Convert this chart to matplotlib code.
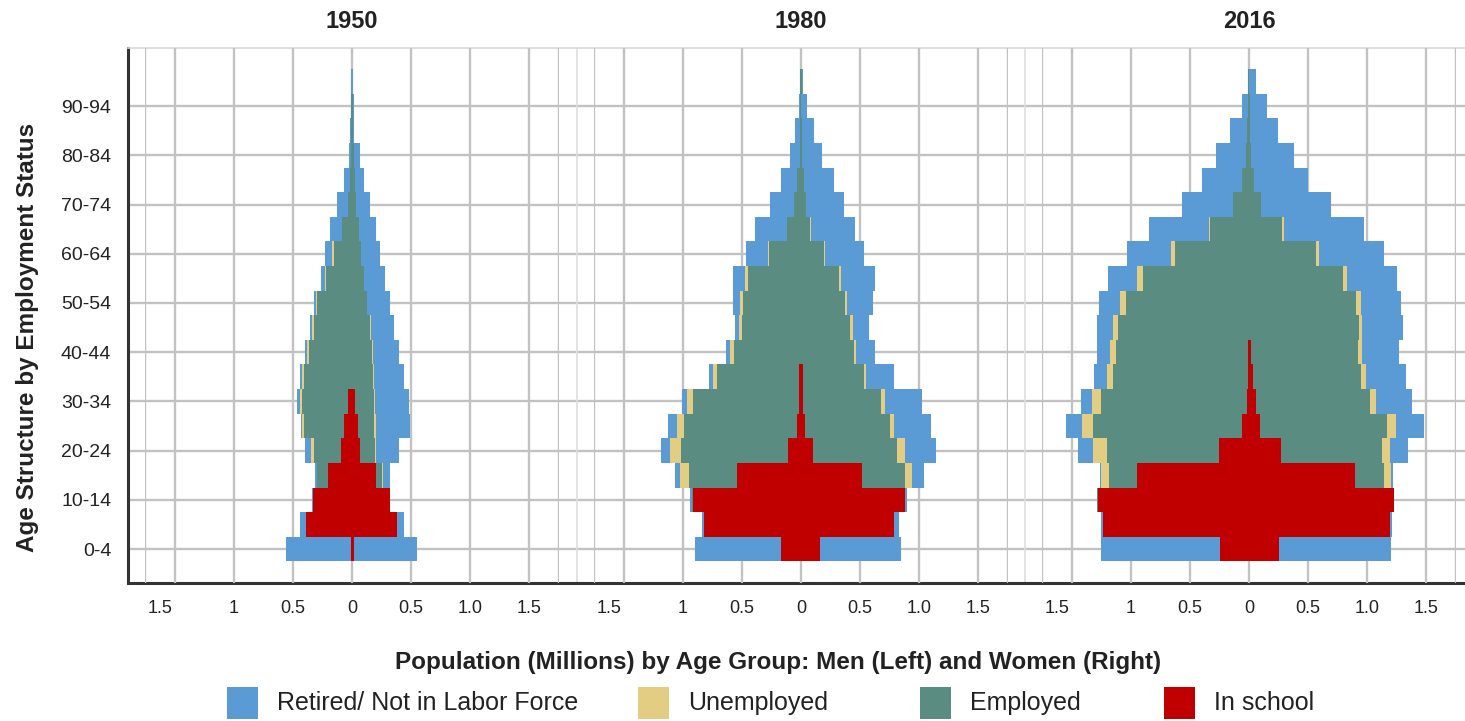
import matplotlib
matplotlib.use("Agg")
import matplotlib.pyplot as plt
import numpy as np
from matplotlib.patches import Rectangle

plt.rcParams['font.family'] = ['Liberation Sans', 'DejaVu Sans']

ages = ['0-4', '5-9', '10-14', '15-19', '20-24', '25-29', '30-34', '35-39', '40-44', '45-49',
        '50-54', '55-59', '60-64', '65-69', '70-74', '75-79', '80-84', '85-89', '90-94', '95-99']
years = ['1950', '1980', '2016']
categories = ['In school', 'Employed', 'Unemployed', 'Retired/ Not in Labor Force']
xtick_labels = ['1.5', '1', '0.5', '0', '0.5', '1.0', '1.5']

# ---- 1950 (millions) ----
school_m_1950 = [0.005, 0.386, 0.330, 0.205, 0.090, 0.065, 0.034, 0, 0, 0, 0, 0, 0, 0, 0, 0, 0, 0, 0, 0]
employed_m_1950 = [0, 0, 0, 0.090, 0.230, 0.338, 0.389, 0.408, 0.366, 0.324, 0.296, 0.217, 0.155, 0.085, 0.037, 0.020, 0.010, 0.010, 0.008, 0]
unemployed_m_1950 = [0, 0, 0, 0.005, 0.025, 0.020, 0.020, 0.015, 0.015, 0.012, 0.010, 0.010, 0.010, 0.003, 0, 0, 0, 0, 0, 0]
retired_m_1950 = [0.553, 0.051, 0.005, 0.010, 0.055, 0.010, 0.020, 0.014, 0.013, 0.022, 0.018, 0.035, 0.060, 0.095, 0.090, 0.050, 0.018, 0.005, 0.004, 0.012]

school_w_1950 = [0.015, 0.380, 0.320, 0.205, 0.070, 0.048, 0.028, 0, 0, 0, 0, 0, 0, 0, 0, 0, 0, 0, 0, 0]
employed_w_1950 = [0, 0, 0, 0.050, 0.127, 0.141, 0.155, 0.177, 0.169, 0.155, 0.127, 0.100, 0.076, 0.056, 0.035, 0.025, 0.015, 0.010, 0.007, 0]
unemployed_w_1950 = [0, 0, 0, 0.003, 0.010, 0.015, 0.010, 0.008, 0.006, 0.005, 0.004, 0.003, 0.002, 0, 0, 0, 0, 0, 0, 0]
retired_w_1950 = [0.535, 0.057, 0.005, 0.060, 0.187, 0.288, 0.286, 0.252, 0.219, 0.192, 0.193, 0.179, 0.162, 0.150, 0.115, 0.079, 0.050, 0.010, 0.010, 0.012]

# ---- 1980 ----
school_m_1980 = [0.169, 0.823, 0.915, 0.541, 0.113, 0.034, 0.015, 0.015, 0, 0, 0, 0, 0, 0, 0, 0, 0, 0, 0, 0]
employed_m_1980 = [0, 0, 0.010, 0.408, 0.901, 0.952, 0.898, 0.695, 0.569, 0.499, 0.490, 0.451, 0.273, 0.118, 0.062, 0.034, 0.011, 0.008, 0.005, 0.008]
unemployed_m_1980 = [0, 0, 0, 0.070, 0.090, 0.062, 0.050, 0.034, 0.034, 0.028, 0.025, 0.020, 0.010, 0.003, 0, 0, 0, 0, 0, 0]
retired_m_1980 = [0.724, 0.010, 0.010, 0.049, 0.079, 0.079, 0.043, 0.031, 0.031, 0.028, 0.062, 0.106, 0.179, 0.265, 0.203, 0.135, 0.079, 0.040, 0.010, 0.002]

school_w_1980 = [0.163, 0.789, 0.882, 0.515, 0.100, 0.037, 0.020, 0.015, 0, 0, 0, 0, 0, 0, 0, 0, 0, 0, 0, 0]
employed_w_1980 = [0, 0, 0, 0.367, 0.711, 0.712, 0.656, 0.515, 0.445, 0.417, 0.375, 0.318, 0.197, 0.079, 0.045, 0.023, 0.010, 0.005, 0.003, 0.005]
unemployed_w_1980 = [0, 0, 0, 0.056, 0.071, 0.040, 0.037, 0.022, 0.022, 0.020, 0.015, 0.020, 0.008, 0.003, 0, 0, 0, 0, 0, 0]
retired_w_1980 = [0.682, 0.036, 0.010, 0.104, 0.258, 0.310, 0.310, 0.231, 0.161, 0.135, 0.218, 0.290, 0.325, 0.372, 0.316, 0.253, 0.167, 0.102, 0.048, 0.010]

# ---- 2016 ----
school_m_2016 = [0.245, 1.234, 1.276, 0.944, 0.254, 0.056, 0.020, 0.006, 0.005, 0, 0, 0, 0, 0, 0, 0, 0, 0, 0, 0]
employed_m_2016 = [0, 0, 0.010, 0.239, 0.949, 1.259, 1.234, 1.140, 1.122, 1.107, 1.042, 0.893, 0.628, 0.330, 0.132, 0.056, 0.028, 0.014, 0.005, 0.005]
unemployed_m_2016 = [0, 0, 0, 0.071, 0.112, 0.093, 0.070, 0.057, 0.048, 0.039, 0.048, 0.051, 0.034, 0.005, 0, 0, 0, 0, 0, 0]
retired_m_2016 = [1.009, 0.020, 0, 0.005, 0.130, 0.136, 0.099, 0.107, 0.112, 0.141, 0.178, 0.248, 0.372, 0.510, 0.431, 0.338, 0.254, 0.147, 0.051, 0.005]

school_w_2016 = [0.254, 1.192, 1.225, 0.896, 0.268, 0.093, 0.056, 0.037, 0.014, 0, 0, 0, 0, 0, 0, 0, 0, 0, 0, 0]
employed_w_2016 = [0, 0, 0, 0.245, 0.859, 1.076, 0.967, 0.912, 0.907, 0.930, 0.901, 0.797, 0.563, 0.282, 0.104, 0.042, 0.020, 0.010, 0.005, 0.003]
unemployed_w_2016 = [0, 0, 0, 0.062, 0.065, 0.070, 0.047, 0.037, 0.037, 0.028, 0.043, 0.034, 0.029, 0.010, 0, 0, 0, 0, 0, 0]
retired_w_2016 = [0.949, 0.019, 0.005, 0.017, 0.152, 0.240, 0.310, 0.338, 0.310, 0.346, 0.343, 0.417, 0.549, 0.680, 0.592, 0.457, 0.360, 0.235, 0.144, 0.053]

men = {
    '1950': [school_m_1950, employed_m_1950, unemployed_m_1950, retired_m_1950],
    '1980': [school_m_1980, employed_m_1980, unemployed_m_1980, retired_m_1980],
    '2016': [school_m_2016, employed_m_2016, unemployed_m_2016, retired_m_2016],
}
women = {
    '1950': [school_w_1950, employed_w_1950, unemployed_w_1950, retired_w_1950],
    '1980': [school_w_1980, employed_w_1980, unemployed_w_1980, retired_w_1980],
    '2016': [school_w_2016, employed_w_2016, unemployed_w_2016, retired_w_2016],
}

colors = ['#C00000', '#5A8C82', '#E3CD82', '#5B9BD5']
grid_color = '#c2c2c2'
text_color = '#222222'

W, H = 1465, 721
fig = plt.figure(figsize=(W / 100, H / 100), dpi=100)

def fx(px):
    return px / W

def fy(py):
    return 1 - py / H

top_px, bot_px = 48, 583
y_lo, y_hi = -1.38, 20.36
ypos = np.arange(len(ages))

# background axis (y labels, horizontal grid, spines)
bg = fig.add_axes([fx(128), fy(bot_px), fx(1465 - 128), (bot_px - top_px) / H])
bg.set_xlim(0, 1)
bg.set_ylim(y_lo, y_hi)
bg.set_yticks(ypos[::2])
bg.set_yticklabels(ages[::2], fontsize=14, color=text_color)
bg.tick_params(axis='y', length=0, pad=12)
bg.set_xticks([])
for yv in ypos[::2]:
    bg.axhline(yv, color=grid_color, lw=1.7, zorder=0)
for s in ['left', 'bottom']:
    bg.spines[s].set_color('#333333')
    bg.spines[s].set_linewidth(2.2)
bg.spines['right'].set_visible(False)
bg.spines['top'].set_color('#d8d8d8')
bg.spines['top'].set_linewidth(1.2)

panel_left = [145, 594, 1042]
panel_w = 414
grid_x = [-1.75, -1.5, -1.0, -0.5, 0, 0.5, 1.0, 1.5, 1.75]
tick_x = [-1.62, -1.0, -0.5, 0, 0.5, 1.0, 1.5]

# light separator lines in the gaps between panels
for i in range(len(panel_left) - 1):
    gap_mid = (panel_left[i] + panel_w + panel_left[i + 1]) / 2
    bg.axvline((gap_mid - 128) / (1465 - 128), color='#dedede', lw=1.2, zorder=0)

for i, yr in enumerate(years):
    ax = fig.add_axes([fx(panel_left[i]), fy(bot_px), fx(panel_w), (bot_px - top_px) / H])
    ax.patch.set_alpha(0)
    ax.set_xlim(-1.75, 1.75)
    ax.set_ylim(y_lo, y_hi)
    for gx in grid_x:
        ax.axvline(gx, color=grid_color, lw=1.7, zorder=0)
    cum_m = np.zeros(len(ages))
    cum_w = np.zeros(len(ages))
    for k, col in enumerate(colors):
        vm = np.array(men[yr][k])
        vw = np.array(women[yr][k])
        ax.barh(ypos, -vm, left=-cum_m, height=1.0, color=col, edgecolor='none', zorder=2)
        ax.barh(ypos, vw, left=cum_w, height=1.0, color=col, edgecolor='none', zorder=2)
        cum_m += vm
        cum_w += vw
    ax.set_yticks([])
    ax.set_xticks(tick_x)
    ax.set_xticklabels(xtick_labels, fontsize=13, color=text_color)
    ax.tick_params(axis='x', length=0, pad=12)
    for s in ax.spines.values():
        s.set_visible(False)
    ax.text(0.5, 1 + 26 / (bot_px - top_px), yr, transform=ax.transAxes,
            ha='center', va='center', fontsize=17, fontweight='bold', color=text_color)

fig.text(fx(28), fy(337), 'Age Structure by Employment Status', rotation=90,
         ha='center', va='center', fontsize=17.5, fontweight='bold', color=text_color)
fig.text(fx(778), fy(663), 'Population (Millions) by Age Group: Men (Left) and Women (Right)',
         ha='center', va='center', fontsize=17.5, fontweight='bold', color=text_color)

# legend, drawn manually to match entry spacing
legend_order = [3, 2, 1, 0]
legend_x = [227, 638, 920, 1164]
for lx, k in zip(legend_x, legend_order):
    fig.add_artist(Rectangle((fx(lx), fy(719)), fx(31), 32 / H, transform=fig.transFigure,
                             facecolor=colors[k], edgecolor='none'))
    fig.text(fx(lx + 50), fy(703), categories[k], ha='left', va='center',
             fontsize=18, color=text_color)

fig.savefig('out.png', dpi=100)
